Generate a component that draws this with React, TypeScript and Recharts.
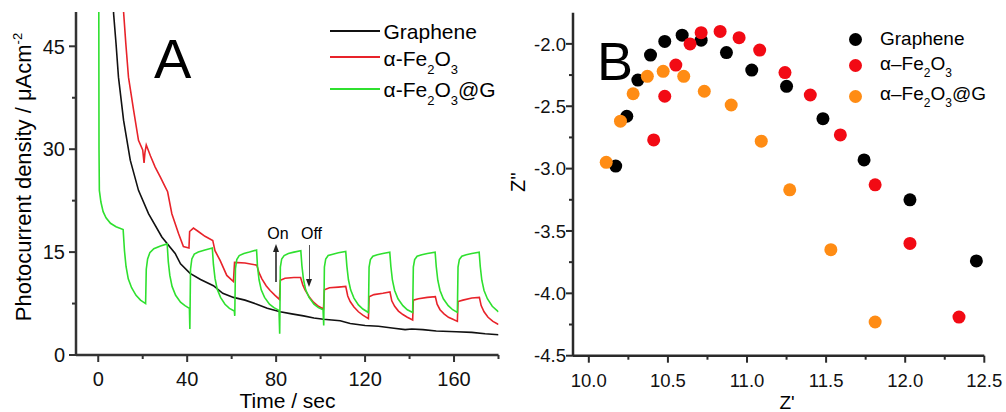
import type { ReactNode } from 'react';
import { LineChart, Line, XAxis, YAxis, ScatterChart, Scatter } from 'recharts';

const FONT = '"Liberation Sans", Arial, sans-serif';

// panel A: photocurrent transients, [time sec, uA cm^-2]
const grapheneCurve: [number, number][] = [
  [6.5, 60], [6.9, 49.8], [8.0, 45.4], [9.1, 40.5], [11.4, 34.2], [14.4, 28.4], [18.1, 24.0],
  [22.6, 20.6], [28.6, 17.2], [34.6, 14.8], [37, 13.3], [41.3, 11.9], [46, 11.0], [51.8, 10.1],
  [56, 9.0], [60.8, 8.4], [66, 8.0], [71.3, 7.4], [76, 6.8], [81.8, 6.3], [87, 6.0], [92.3, 5.7],
  [97, 5.4], [101.3, 5.2], [108.8, 5.0], [113.3, 4.6], [120, 4.3], [126, 4.2], [133, 3.9],
  [138, 3.7], [141, 3.8], [146, 3.7], [152, 3.5], [161, 3.4], [168, 3.3], [174, 3.1], [180, 2.95],
];

const fe2o3Curve: [number, number][] = [
  [10.8, 60], [11.4, 50], [12.4, 45.4], [13.6, 40.5], [15.9, 35.7], [18.1, 31.3], [20.0, 29.9],
  [20.6, 28.0], [21.0, 29.5], [21.6, 30.6], [23.5, 29.0], [25.6, 27.4], [28, 25.9], [30.1, 24.5],
  [31.2, 23.8], [33.1, 20.6], [36.1, 17.7], [38.3, 15.8], [39.5, 15.7], [40.8, 15.6], [41.1, 18.0],
  [42.8, 18.5], [45, 18.0], [48, 17.3], [51.5, 16.7], [52.5, 15.2], [54.8, 13.8], [57.8, 11.6],
  [60.8, 10.7], [61.3, 13.5], [66, 13.4], [71.3, 13.1], [72.3, 12.0], [73.6, 11.1], [75.5, 10.1],
  [77.3, 9.4], [79.5, 8.7], [81.5, 8.1], [81.9, 10.9], [84, 11.2], [88, 11.3], [91, 11.3],
  [92, 10.2], [93, 9.5], [95, 8.4], [96.8, 7.7], [99, 7.1], [101.3, 6.7], [101.7, 9.5], [104, 9.8],
  [108, 9.9], [111.3, 10.0], [112.2, 8.6], [113.3, 7.8], [115, 7.0], [117, 6.3], [119, 5.8],
  [121.5, 5.3], [121.8, 8.5], [124, 8.8], [128, 9.0], [131.2, 9.2], [132, 7.9], [133.3, 7.1],
  [135, 6.4], [137, 5.9], [139, 5.5], [141.4, 5.1], [141.7, 8.0], [144, 8.2], [148, 8.4],
  [151.6, 8.5], [152.4, 7.4], [153.7, 6.6], [155.5, 6.0], [157.5, 5.5], [159.5, 5.2], [161.5, 4.9],
  [161.8, 7.8], [164, 8.0], [168, 8.3], [171.4, 8.4], [172.2, 7.2], [173.5, 6.3], [175.3, 5.5],
  [177.5, 4.9], [180, 4.45],
];

const fe2o3GCurve: [number, number][] = [
  [0.2, 62], [0.35, 30], [0.5, 24.0], [1.2, 22.3], [2.2, 20.9], [3.5, 20.0], [5.5, 19.2], [8, 18.7],
  [11.2, 18.3], [11.8, 15.2], [12.5, 12.9], [13.5, 11.1], [15, 9.8], [17, 8.7], [19, 8.0], [21.3, 7.5],
  [21.6, 12.5], [22.2, 14.0], [23.2, 14.9], [25, 15.5], [28, 15.9], [31, 16.2],
  [31.5, 13.6], [32.2, 11.6], [33.2, 10.0], [34.8, 8.7], [37, 7.7], [39, 7.2], [41.0, 6.8], [41.2, 3.8],
  [41.5, 12.5], [42.1, 14.0], [43.2, 14.7], [45, 15.0], [48, 15.3], [51.3, 15.6],
  [51.8, 13.2], [52.5, 11.2], [53.5, 9.6], [55, 8.4], [57, 7.4], [59, 6.8], [61.2, 6.4], [61.4, 5.7],
  [61.7, 12.6], [62.3, 13.9], [63.4, 14.5], [65.5, 14.8], [68, 15.0], [71.2, 15.3],
  [71.6, 13.0], [72.3, 11.0], [73.3, 9.5], [74.8, 8.4], [77, 7.4], [79, 6.9], [81.3, 6.5], [81.6, 3.1],
  [81.9, 12.8], [82.5, 14.0], [83.6, 14.5], [85.5, 14.8], [88, 15.0], [91.1, 15.2],
  [91.6, 13.0], [92.3, 11.0], [93.3, 9.5], [94.8, 8.4], [97, 7.4], [99, 6.9], [101.1, 6.6], [101.4, 4.3],
  [101.7, 12.8], [102.3, 14.0], [103.4, 14.5], [105.5, 14.7], [108, 14.9], [111.3, 15.1],
  [111.8, 13.0], [112.5, 11.0], [113.5, 9.5], [115, 8.3], [117, 7.3], [119, 6.7], [121.5, 6.2],
  [121.8, 12.8], [122.4, 13.9], [123.5, 14.4], [125.5, 14.6], [128, 14.8], [131.1, 15.0],
  [131.6, 12.9], [132.3, 10.9], [133.3, 9.4], [134.8, 8.2], [137, 7.2], [139, 6.6], [141.4, 6.2],
  [141.7, 12.8], [142.3, 13.9], [143.4, 14.4], [145.5, 14.6], [148, 14.8], [151.5, 15.0],
  [152, 12.9], [152.7, 10.9], [153.7, 9.4], [155.2, 8.2], [157.4, 7.2], [159.4, 6.6], [161.5, 6.2],
  [161.8, 12.8], [162.4, 13.9], [163.5, 14.4], [165.5, 14.6], [168, 14.8], [171.3, 15.0],
  [171.8, 12.9], [172.5, 10.9], [173.5, 9.4], [175, 8.2], [177.2, 7.1], [180, 6.3],
];

const timeTicks = [0, 20, 40, 60, 80, 100, 120, 140, 160, 180];
const timeLabels = [0, 40, 80, 120, 160];
const currentTicks = [0, 7.5, 15, 22.5, 30, 37.5, 45];
const currentLabels = [0, 15, 30, 45];

// panel B: Nyquist points, [Z', Z'']
const grapheneNyquist: [number, number][] = [
  [10.17, -2.98], [10.24, -2.58], [10.31, -2.29], [10.39, -2.09], [10.48, -1.98], [10.59, -1.93],
  [10.71, -1.97], [10.87, -2.07], [11.03, -2.21], [11.25, -2.34], [11.48, -2.60], [11.74, -2.93],
  [12.03, -3.25], [12.45, -3.74],
];
const fe2o3Nyquist: [number, number][] = [
  [10.41, -2.77], [10.48, -2.42], [10.55, -2.17], [10.64, -2.00], [10.71, -1.91], [10.83, -1.90],
  [10.95, -1.95], [11.08, -2.05], [11.24, -2.23], [11.40, -2.41], [11.59, -2.73], [11.81, -3.13],
  [12.03, -3.60], [12.34, -4.19],
];
const fe2o3GNyquist: [number, number][] = [
  [10.11, -2.95], [10.20, -2.62], [10.28, -2.40], [10.37, -2.26], [10.47, -2.22], [10.60, -2.26],
  [10.73, -2.38], [10.90, -2.49], [11.09, -2.78], [11.27, -3.17], [11.53, -3.65], [11.81, -4.23],
];

const zReTicks = [10, 10.25, 10.5, 10.75, 11, 11.25, 11.5, 11.75, 12, 12.25, 12.5];
const zReLabels = [10, 10.5, 11, 11.5, 12, 12.5];
const zImTicks = [-4.5, -4.25, -4, -3.75, -3.5, -3.25, -3, -2.75, -2.5, -2.25, -2];
const zImLabels = [-4.5, -4, -3.5, -3, -2.5, -2];

const toLine = (pts: [number, number][]) => pts.map(([t, y]) => ({ t, y }));
const toPts = (pts: [number, number][]) => pts.map(([x, y]) => ({ x, y }));

const INK = '#111';
const RED = '#e8232a';
const GREEN = '#2fe02f';
const RED_DOT = '#f20a14';
const ORANGE = '#ff8c14';

// the frame of each panel comes from the axis lines of four axes (bottom/left carry ticks)
const AXIS_A = { stroke: '#333', strokeWidth: 2.5 };
const AXIS_B = { stroke: '#2a2a2a', strokeWidth: 2.5 };

const bottomTick = (fmt: (v: number) => string, labels: number[], fs: number, color: string) => (props: any) => {
  const { x, y, payload } = props;
  const major = labels.includes(payload.value);
  return (
    <g>
      <rect x={x - 1} y={y} width={2} height={major ? 7 : 4} fill={color} />
      {major && (
        <text x={x} y={y + 31} textAnchor="middle" fontSize={fs} fontFamily={FONT} fill={INK}>
          {fmt(payload.value)}
        </text>
      )}
    </g>
  );
};

const leftTick = (fmt: (v: number) => string, labels: number[], fs: number, gap: number, color: string) => (props: any) => {
  const { x, y, payload } = props;
  const major = labels.includes(payload.value);
  const len = major ? 7 : 4;
  return (
    <g>
      <rect x={x - len} y={y - 1} width={len} height={2} fill={color} />
      {major && (
        <text x={x - gap} y={y + fs * 0.36} textAnchor="end" fontSize={fs} fontFamily={FONT} fill={INK}>
          {fmt(payload.value)}
        </text>
      )}
    </g>
  );
};

const dot = (color: string) => (props: any) => (
  <circle cx={props.cx} cy={props.cy} r={6.5} fill={color} />
);

// html text placed by its baseline
const Txt = ({ x, base, size, anchor = 'start', children }: { x: number; base: number; size: number; anchor?: string; children: ReactNode }) => (
  <div
    style={{
      position: 'absolute', left: x, top: base - 0.8465 * size, fontSize: size, lineHeight: `${size}px`,
      whiteSpace: 'nowrap', fontFamily: FONT, color: '#000',
      transform: anchor === 'middle' ? 'translateX(-50%)' : anchor === 'end' ? 'translateX(-100%)' : undefined,
    }}
  >
    {children}
  </div>
);

// vertical text, reading upwards; bx = baseline x, cy = centre
const VTxt = ({ bx, cy, size, children }: { bx: number; cy: number; size: number; children: ReactNode }) => (
  <div
    style={{
      position: 'absolute', left: bx - 0.3465 * size, top: cy, fontSize: size, lineHeight: `${size}px`,
      whiteSpace: 'nowrap', fontFamily: FONT, color: '#000', transform: 'translate(-50%, -50%) rotate(-90deg)',
    }}
  >
    {children}
  </div>
);

const Sub = ({ children, size, drop }: { children: ReactNode; size: number; drop: number }) => (
  <span style={{ fontSize: size, position: 'relative', top: drop }}>{children}</span>
);

const Fe2O3 = ({ dash, tail, size, drop }: { dash: string; tail?: string; size: number; drop: number }) => (
  <>
    α{dash}Fe<Sub size={size} drop={drop}>2</Sub>O<Sub size={size} drop={drop}>3</Sub>{tail}
  </>
);

const Bar = ({ x, y, w, h, color }: { x: number; y: number; w: number; h: number; color: string }) => (
  <div style={{ position: 'absolute', left: x, top: y, width: w, height: h, background: color }} />
);

const Dot = ({ cx, cy, color }: { cx: number; cy: number; color: string }) => (
  <div style={{ position: 'absolute', left: cx - 6.5, top: cy - 6.5, width: 13, height: 13, borderRadius: '50%', background: color }} />
);

const Head = ({ x, y, up }: { x: number; y: number; up: boolean }) => (
  <div
    style={{
      position: 'absolute', left: x - 3, top: y, width: 0, height: 0,
      borderLeft: '3px solid transparent', borderRight: '3px solid transparent',
      ...(up ? { borderBottom: '8px solid #222' } : { borderTop: '8px solid #222' }),
    }}
  />
);

export default function App() {
  return (
    <div style={{ position: 'absolute', left: 0, top: 0, width: 1006, height: 412, background: '#fff', overflow: 'hidden' }}>
      <div style={{ position: 'absolute', left: 0, top: 0 }}>
        <LineChart width={510} height={412} margin={{ top: 12, right: 11.5, bottom: 0, left: 0 }}>
          <XAxis
            type="number" dataKey="t" domain={[-10, 180]} allowDataOverflow ticks={timeTicks} interval={0}
            height={57} tickSize={0} tickMargin={0} tickLine={false} axisLine={AXIS_A}
            tick={bottomTick((v) => String(v), timeLabels, 20, AXIS_A.stroke)}
          />
          <XAxis xAxisId="top" orientation="top" type="number" domain={[-10, 180]} height={0} tick={false} tickLine={false} axisLine={AXIS_A} />
          <YAxis
            type="number" domain={[0, 50]} allowDataOverflow ticks={currentTicks} interval={0}
            width={76} tickSize={0} tickMargin={0} tickLine={false} axisLine={AXIS_A}
            tick={leftTick((v) => String(v), currentLabels, 20, 11, AXIS_A.stroke)}
          />
          <YAxis yAxisId="right" orientation="right" type="number" domain={[0, 50]} width={0} tick={false} tickLine={false} axisLine={AXIS_A} />
          <Line data={toLine(grapheneCurve)} dataKey="y" type="linear" stroke={INK} strokeWidth={1.6} dot={false} isAnimationActive={false} />
          <Line data={toLine(fe2o3Curve)} dataKey="y" type="linear" stroke={RED} strokeWidth={1.6} dot={false} isAnimationActive={false} />
          <Line data={toLine(fe2o3GCurve)} dataKey="y" type="linear" stroke={GREEN} strokeWidth={1.6} dot={false} isAnimationActive={false} />
        </LineChart>
      </div>
      <div style={{ position: 'absolute', left: 500, top: 0 }}>
        <ScatterChart width={506} height={412} margin={{ top: 12.7, right: 21.7, bottom: 0, left: 0 }}>
          <XAxis
            type="number" dataKey="x" domain={[9.9, 12.5]} allowDataOverflow ticks={zReTicks} interval={0}
            height={56.3} tickSize={0} tickMargin={0} tickLine={false} axisLine={AXIS_B}
            tick={bottomTick((v) => v.toFixed(1), zReLabels, 18.5, AXIS_B.stroke)}
          />
          <XAxis xAxisId="top" orientation="top" type="number" domain={[9.9, 12.5]} height={0} tick={false} tickLine={false} axisLine={AXIS_B} />
          <YAxis
            type="number" dataKey="y" domain={[-4.5, -1.75]} allowDataOverflow ticks={zImTicks} interval={0}
            width={73} tickSize={0} tickMargin={0} tickLine={false} axisLine={AXIS_B}
            tick={leftTick((v) => v.toFixed(1), zImLabels, 18.5, 7, AXIS_B.stroke)}
          />
          <YAxis yAxisId="right" orientation="right" type="number" domain={[-4.5, -1.75]} width={0} tick={false} tickLine={false} axisLine={AXIS_B} />
          <Scatter data={toPts(grapheneNyquist)} fill="#000" shape={dot('#000')} isAnimationActive={false} />
          <Scatter data={toPts(fe2o3Nyquist)} fill={RED_DOT} shape={dot(RED_DOT)} isAnimationActive={false} />
          <Scatter data={toPts(fe2o3GNyquist)} fill={ORANGE} shape={dot(ORANGE)} isAnimationActive={false} />
        </ScatterChart>
      </div>

      {/* panel A annotations */}
      <Txt x={154} base={78} size={56}>A</Txt>
      <VTxt bx={33} cy={177} size={22}>
        Photocurrent density / μAcm<span style={{ fontSize: 13, position: 'relative', top: -9 }}>-2</span>
      </VTxt>
      <Txt x={287.5} base={408} size={21} anchor="middle">Time / sec</Txt>
      <Bar x={330} y={30} w={50} h={2} color={INK} />
      <Txt x={383.5} base={38.3} size={21}>Graphene</Txt>
      <Bar x={330} y={56} w={50} h={2} color={RED} />
      <Txt x={383.5} base={65.5} size={21}><Fe2O3 dash="-" size={13} drop={8} /></Txt>
      <Bar x={330} y={88} w={50} h={2} color={GREEN} />
      <Txt x={383.5} base={97} size={21}><Fe2O3 dash="-" tail="@G" size={13} drop={8} /></Txt>
      <Txt x={278} base={240} size={16} anchor="middle">On</Txt>
      <Txt x={311.5} base={240} size={16} anchor="middle">Off</Txt>
      <Bar x={275} y={250} w={1.5} h={32} color="#555" />
      <Head x={275.75} y={244} up />
      <Bar x={308.5} y={245} w={1.5} h={34} color="#555" />
      <Head x={309.25} y={279} up={false} />

      {/* panel B annotations */}
      <Txt x={597} base={80} size={54}>B</Txt>
      <VTxt bx={525} cy={182} size={20}>Z''</VTxt>
      <Txt x={787} base={409} size={19} anchor="middle">Z'</Txt>
      <Dot cx={855.7} cy={39.3} color="#000" />
      <Txt x={880} base={45} size={19}>Graphene</Txt>
      <Dot cx={855.7} cy={65} color={RED_DOT} />
      <Txt x={880} base={70.5} size={19}><Fe2O3 dash="–" size={12} drop={7} /></Txt>
      <Dot cx={855.7} cy={96} color={ORANGE} />
      <Txt x={880} base={100} size={19}><Fe2O3 dash="–" tail="@G" size={12} drop={7} /></Txt>
    </div>
  );
}
